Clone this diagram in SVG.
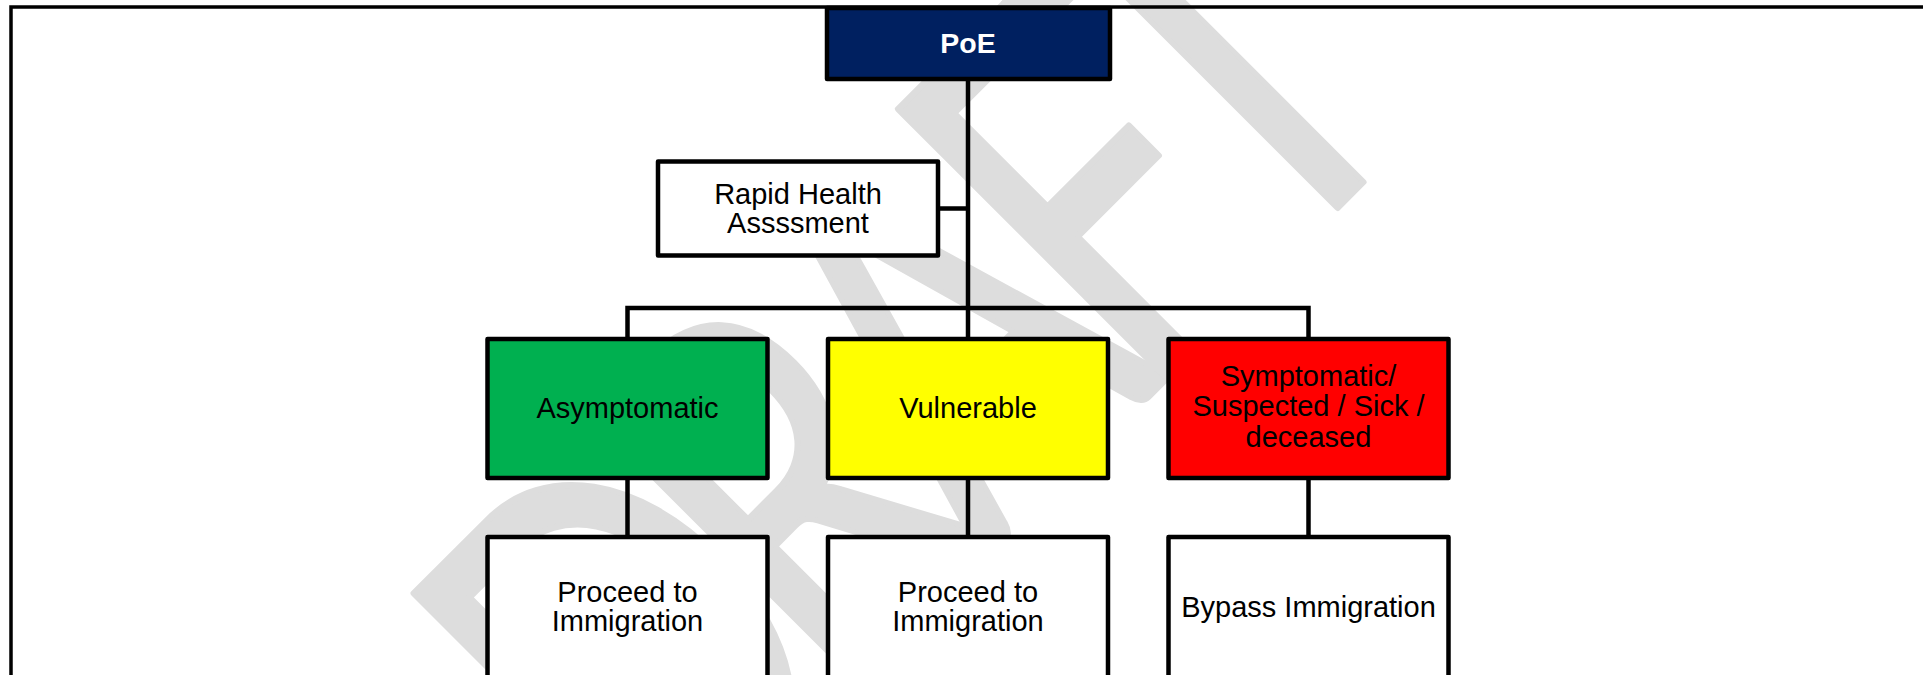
<svg xmlns="http://www.w3.org/2000/svg" width="1923" height="675" viewBox="0 0 1923 675">
  <style>
    .box { stroke: #000; stroke-width: 4.5; stroke-linejoin: round; }
    .wire { fill: none; stroke: #000; stroke-width: 4.5; }
    .lbl { font-family: "Liberation Sans", Arial, sans-serif; font-size: 29px; fill: #000; text-anchor: middle; }
    .wm { font-family: Lato, "Open Sans", sans-serif; font-size: 390px; fill: #dddddd; stroke: #dddddd; stroke-width: 5; stroke-linejoin: round; text-anchor: middle; }
  </style>

  <rect width="1923" height="675" fill="#fff"/>

  <!-- background watermark -->
  <g id="watermark" transform="translate(677,868) rotate(-45) scale(1,1.36)">
    <text class="wm" x="120 346 565 767 952" y="0">DRAFT</text>
  </g>

  <!-- page border -->
  <path d="M11,690 V7 H1940" fill="none" stroke="#000" stroke-width="3.5"/>

  <g id="connectors">
    <path class="wire" d="M968,79 V339"/>
    <path class="wire" d="M938,208.5 H968"/>
    <path class="wire" d="M627.5,339 V308 H1308.5 V339"/>
    <path class="wire" d="M627.5,478 V537 M968,478 V537 M1308.5,478 V537"/>
  </g>

  <g id="poe">
    <rect class="box" x="827" y="8" width="283" height="71" fill="#002060"/>
    <text x="968" y="52.5" font-family="Liberation Sans, Arial, sans-serif" font-size="28.5" font-weight="bold" fill="#fff" text-anchor="middle">PoE</text>
  </g>

  <g id="rapid-health-assessment">
    <rect class="box" x="658" y="161.5" width="280" height="94" fill="#fff"/>
    <text class="lbl" x="798" y="203.5">Rapid Health</text>
    <text class="lbl" x="798" y="233">Assssment</text>
  </g>

  <g id="asymptomatic">
    <rect class="box" x="487.5" y="339" width="280" height="139" fill="#00b050"/>
    <text class="lbl" x="627.5" y="418">Asymptomatic</text>
  </g>

  <g id="vulnerable">
    <rect class="box" x="828" y="339" width="280" height="139" fill="#ffff00"/>
    <text class="lbl" x="968" y="418">Vulnerable</text>
  </g>

  <g id="symptomatic">
    <rect class="box" x="1168.5" y="339" width="280" height="139" fill="#ff0000"/>
    <text class="lbl" x="1308.5" y="385.5">Symptomatic/</text>
    <text class="lbl" x="1308.5" y="416">Suspected / Sick /</text>
    <text class="lbl" x="1308.5" y="446.5">deceased</text>
  </g>

  <g id="proceed-1">
    <rect class="box" x="487.5" y="537" width="280" height="170" fill="#fff"/>
    <text class="lbl" x="627.5" y="601.5">Proceed to</text>
    <text class="lbl" x="627.5" y="630.5">Immigration</text>
  </g>

  <g id="proceed-2">
    <rect class="box" x="828" y="537" width="280" height="170" fill="#fff"/>
    <text class="lbl" x="968" y="601.5">Proceed to</text>
    <text class="lbl" x="968" y="630.5">Immigration</text>
  </g>

  <g id="bypass">
    <rect class="box" x="1168.5" y="537" width="280" height="170" fill="#fff"/>
    <text class="lbl" x="1308.5" y="616.5">Bypass Immigration</text>
  </g>
</svg>
